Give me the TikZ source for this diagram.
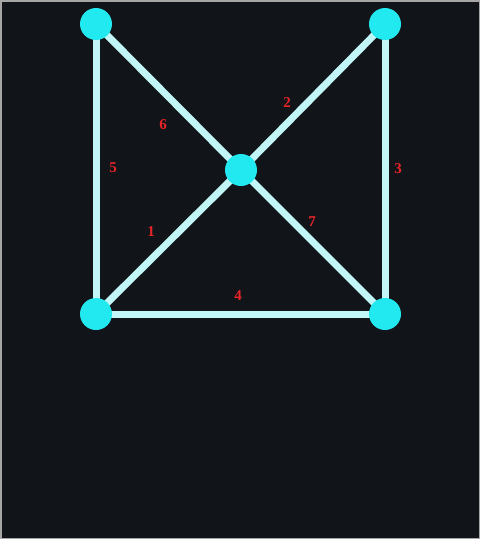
\documentclass[tikz,border=0pt]{standalone}
\usepackage{fontspec}
\setmainfont{Liberation Serif}
\begin{document}
\begin{tikzpicture}[x=1pt,y=-1pt,
  vtx/.style={circle,fill=vcyan,minimum size=32pt,inner sep=0pt},
  edge/.style={draw=ecyan,line width=7pt},
  lab/.style={text=lred,font=\fontsize{15}{15}\selectfont\bfseries}]
\definecolor{vcyan}{HTML}{22E8EF}
\definecolor{ecyan}{HTML}{C2F6F6}
\definecolor{lred}{HTML}{E82428}
\definecolor{bgc}{HTML}{111418}
\fill[bgc] (0,0) rectangle (480,539);
\draw[gray!70,line width=1.5pt] (0.75,0.75) rectangle (479.25,538.25);
\useasboundingbox (0,0) rectangle (480,539);
\coordinate (A) at (96,24);
\coordinate (B) at (385,24);
\coordinate (C) at (241,170);
\coordinate (D) at (96,314);
\coordinate (E) at (385,314);
\draw[edge] (D) -- (C);
\draw[edge] (C) -- (B);
\draw[edge] (B) -- (E);
\draw[edge] (D) -- (E);
\draw[edge] (A) -- (D);
\draw[edge] (A) -- (C);
\draw[edge] (C) -- (E);
\node[vtx] (nA) at (A) {};
\node[vtx] (nB) at (B) {};
\node[vtx] (nC) at (C) {};
\node[vtx] (nD) at (D) {};
\node[vtx] (nE) at (E) {};
\node[lab] (l1) at (151,232) {1};
\node[lab] (l2) at (287,103) {2};
\node[lab] (l3) at (398,169) {3};
\node[lab] (l4) at (238,296) {4};
\node[lab] (l5) at (113,168) {5};
\node[lab] (l6) at (163,125) {6};
\node[lab] (l7) at (312,222) {7};
\end{tikzpicture}
\end{document}
